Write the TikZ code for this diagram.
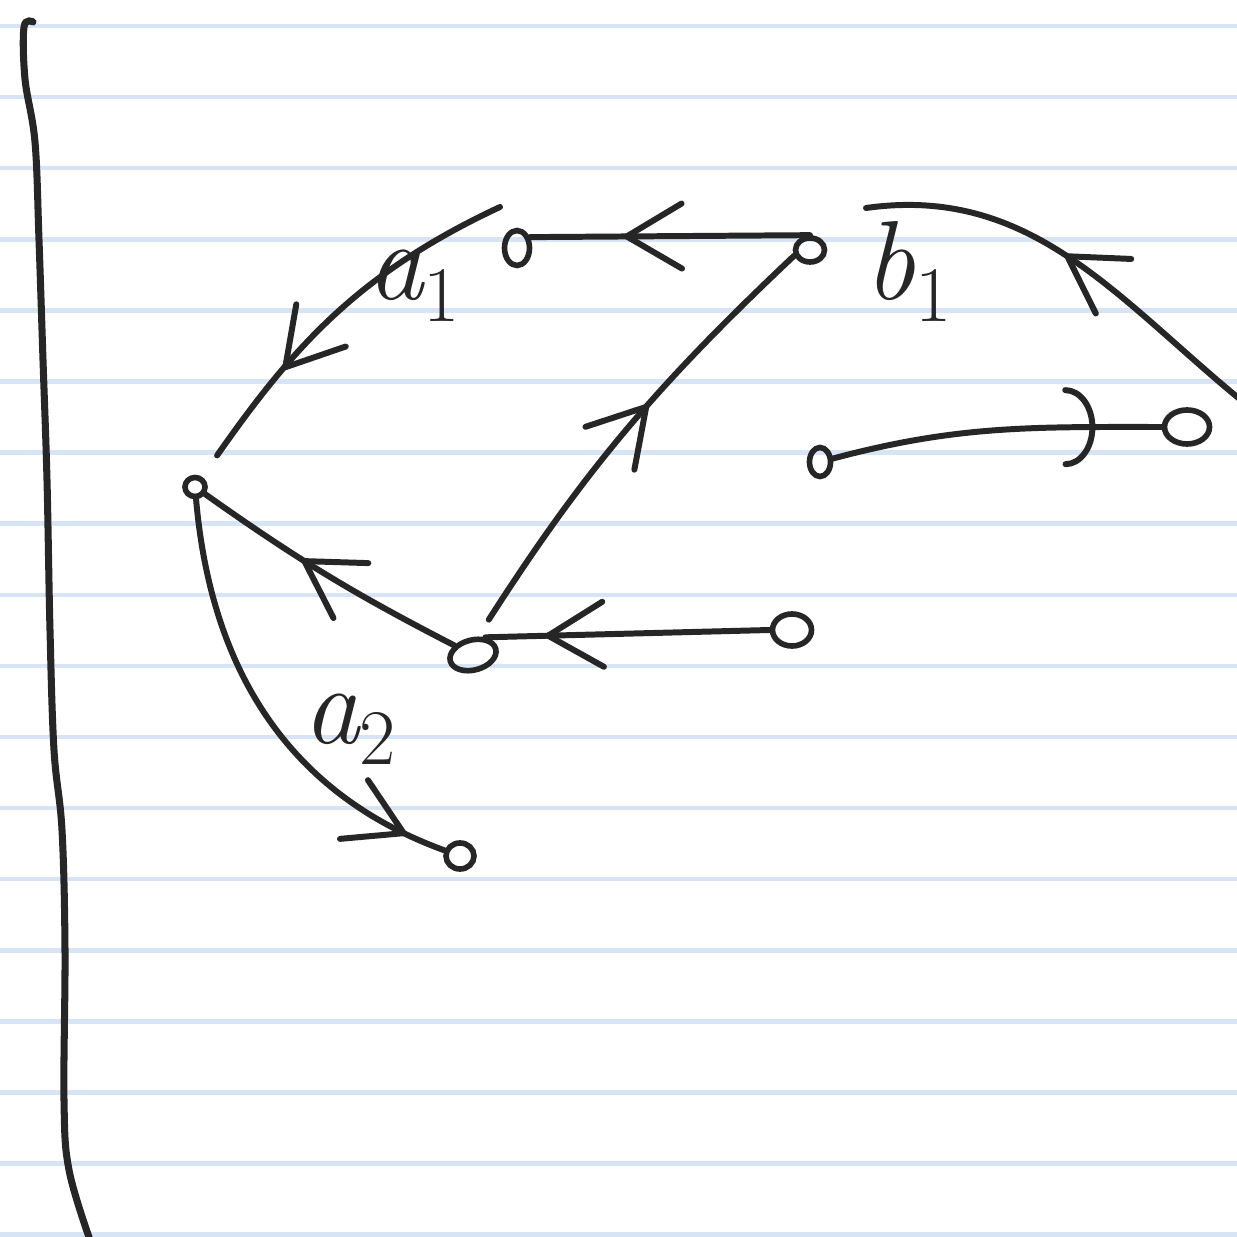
\documentclass[tikz,border=0pt]{standalone}
\usetikzlibrary{arrows.meta,decorations.markings,shapes.geometric}
\definecolor{ink}{RGB}{38,38,38}
\definecolor{paperline}{RGB}{214,228,246}
\tikzset{
  vtx/.style={draw=ink, line width=1.6pt, ellipse, inner sep=0pt},
  edge/.style={ink, line width=1.7pt, line cap=round},
  midarrow/.style={postaction={decorate},
    decoration={markings, mark=at position #1 with
      {\arrow{Straight Barb[length=5.5mm,width=6.5mm,line width=1.7pt,round]}}}},
  arcarrow/.style={postaction={decorate},
    decoration={markings, mark=at position #1 with
      {\arrow{Arc Barb[length=3mm,width=8mm,line width=1.7pt,round]}}}},
  lbl/.style={ink, font=\fontsize{32}{36}\selectfont\itshape, inner sep=0pt, anchor=base west}
}
\begin{document}
\begin{tikzpicture}[x=0.01cm,y=0.01cm]
\useasboundingbox (0,0) rectangle (1237,1236);
\clip (0,0) rectangle (1237,1236);
\fill[white] (0,0) rectangle (1237,1236);

% ruled paper
\foreach \k in {0,...,17}
  \draw[paperline, line width=1.3pt] (0,{1210-71.1*\k}) -- (1237,{1210-71.1*\k});
\draw[ink, line width=2pt, line cap=round] plot[smooth, tension=0.6] coordinates
  {(33,1214) (24,1209) (25,1157) (35,1094) (39,996) (43,876) (47,756) (50,606)
   (54,486) (62,406) (65,286) (64,136) (69,66) (90,-4)};

% vertices
\node[vtx, minimum width=0.20cm, minimum height=0.19cm] (A) at (195,749) {};
\node[vtx, minimum width=0.25cm, minimum height=0.35cm] (B) at (517,988) {};
\node[vtx, minimum width=0.29cm, minimum height=0.24cm] (C) at (810,986) {};
\node[vtx, minimum width=0.47cm, minimum height=0.30cm, rotate=15] (D) at (473,581) {};
\node[vtx, minimum width=0.39cm, minimum height=0.32cm] (E) at (792,606) {};
\node[vtx, minimum width=0.28cm, minimum height=0.26cm] (F) at (460,380) {};
\node[vtx, minimum width=0.21cm, minimum height=0.29cm] (G) at (820,774) {};
\node[vtx, minimum width=0.45cm, minimum height=0.34cm] (H) at (1187,809) {};

\coordinate (a1s) at (500,1029);
\coordinate (b1s) at (1262,819);
\coordinate (b1e) at (866,1028);

% labels
\node[lbl] (la1) at (367,936) {a\textsubscript{\upshape 1}};
\node[lbl] (lb1) at (864,936) {b\textsubscript{\upshape 1}};
\node[lbl] (la2) at (303,493) {a\textsubscript{\upshape 2}};

% edges
\draw[edge, midarrow=0.665] (C.north) -- (B.40);
\draw[edge, midarrow=0.67, shorten >=0.26cm] (a1s) to[out=205, in=55] (A);
\draw[edge, midarrow=0.6] (D) to[bend left=4] (A);
\draw[edge, midarrow=0.91] (A) to[out=-85, in=160] (F);
\draw[edge, midarrow=0.79] (E.west) -- (D.40);
\draw[edge, midarrow=0.58, shorten <=0.2cm] (D.60) to[bend left=7] (C.200);
\draw[edge, midarrow=0.55] (b1s) to[out=142, in=8] (b1e);
\draw[edge, arcarrow=0.8] (G) to[out=15, in=180] (H);
\end{tikzpicture}
\end{document}
